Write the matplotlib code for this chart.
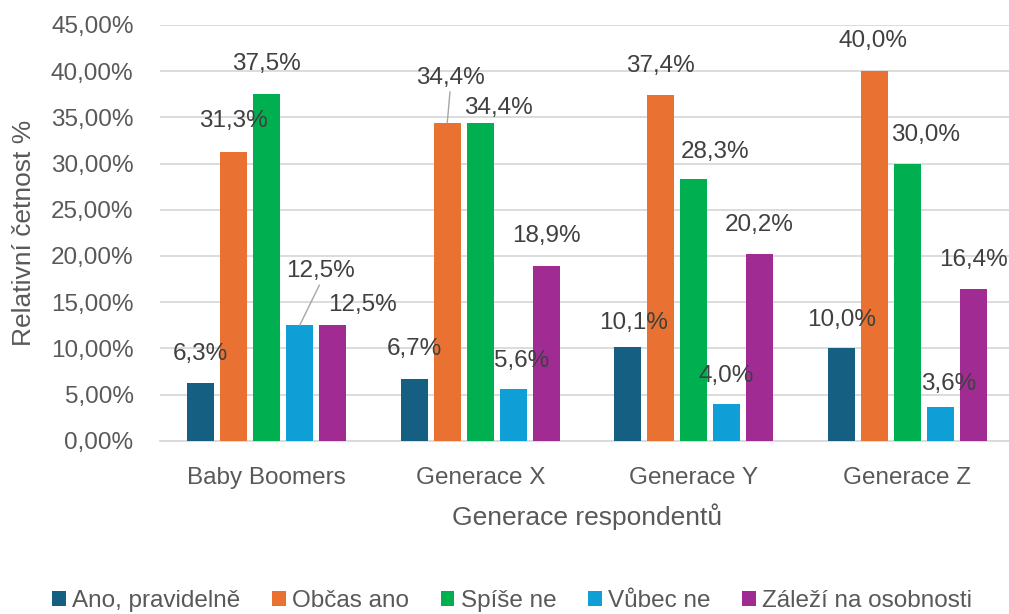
import matplotlib.pyplot as plt
from matplotlib.ticker import FuncFormatter, MultipleLocator
import numpy as np

plt.rcParams["font.family"] = ["Liberation Sans", "DejaVu Sans"]

generations = ["Baby Boomers", "Generace X", "Generace Y", "Generace Z"]
series = ["Ano, pravidelně", "Občas ano", "Spíše ne", "Vůbec ne", "Záleží na osobnosti"]
ano_pravidelne = [6.3, 6.7, 10.1, 10.0]
obcas_ano = [31.3, 34.4, 37.4, 40.0]
spise_ne = [37.5, 34.4, 28.3, 30.0]
vubec_ne = [12.5, 5.6, 4.0, 3.6]
zalezi = [12.5, 18.9, 20.2, 16.4]

colors = ["#156082", "#E97132", "#00B050", "#0F9ED5", "#A02B93"]

# label offsets in pixels (dx, dy) from bar top, per series x generation
label_offsets = [
    [(0, 29), (0, 30), (6, 24), (0, 28)],
    [(0, 31), (3, 45), (0, 29), (-1, 30)],
    [(0, 30), (18, 15), (21, 27), (18, 29)],
    [(21, 54), (8, 28), (-1, 28), (8, 23)],
    [(30, 20), (0, 30), (-1, 29), (0, 29)],
]
leader = {(3, 0), (1, 1)}

values = [ano_pravidelne, obcas_ano, spise_ne, vubec_ne, zalezi]

fig = plt.figure(figsize=(10.09, 6.14), dpi=100)
ax = fig.add_axes([160 / 1009, 173.3 / 614, 854 / 1009, 415.7 / 614])

x = np.arange(len(generations))
width = 0.127
step = 0.1546
for j, (name, vals) in enumerate(zip(series, values)):
    xs = x + (j - 2) * step
    ax.bar(xs, vals, width, color=colors[j], label=name, zorder=3)
    for i, v in enumerate(vals):
        dx, dy = label_offsets[j][i]
        kw = {}
        if (j, i) in leader:
            kw["arrowprops"] = dict(arrowstyle="-", color="#A6A6A6", lw=1.0,
                                    relpos=(0.5, 0.0), shrinkA=0, shrinkB=0)
        ax.annotate(f"{v:.1f}%".replace(".", ","), xy=(xs[i], v),
                    xytext=(dx, dy), textcoords="offset pixels",
                    ha="center", va="center", fontsize=17.5, color="#404040",
                    zorder=4, **kw)

ax.set_xlim(-0.5, 3.5)
ax.set_ylim(0, 45)
ax.yaxis.set_major_locator(MultipleLocator(5))
ax.yaxis.set_major_formatter(FuncFormatter(lambda v, p: f"{v:.2f}%".replace(".", ",")))
ax.set_xticks(x)
ax.set_xticklabels(generations)
ax.tick_params(axis="both", length=0, labelsize=17.5, labelcolor="#595959")
ax.tick_params(axis="x", pad=19)
ax.tick_params(axis="y", pad=19)
ax.grid(axis="y", color="#D9D9D9", linewidth=1.3, zorder=0)
for s in ["top", "right", "left"]:
    ax.spines[s].set_visible(False)
ax.spines["bottom"].set_color("#D9D9D9")
ax.spines["bottom"].set_linewidth(1.3)
ax.spines["bottom"].set_zorder(2)

ax.set_xlabel("Generace respondentů", fontsize=19, color="#595959", labelpad=10)
ax.set_ylabel("Relativní četnost %", fontsize=19, color="#595959")
ax.yaxis.set_label_coords((36 - 160) / 854, 0.5)

fig.legend(loc="center", bbox_to_anchor=(512 / 1009, 1 - 601 / 614), ncol=5,
           frameon=False, fontsize=17.5, handlelength=0.57, handleheight=0.57,
           handletextpad=0.25, columnspacing=1.3, labelcolor="#595959")

fig.savefig("out.png", dpi=100)
